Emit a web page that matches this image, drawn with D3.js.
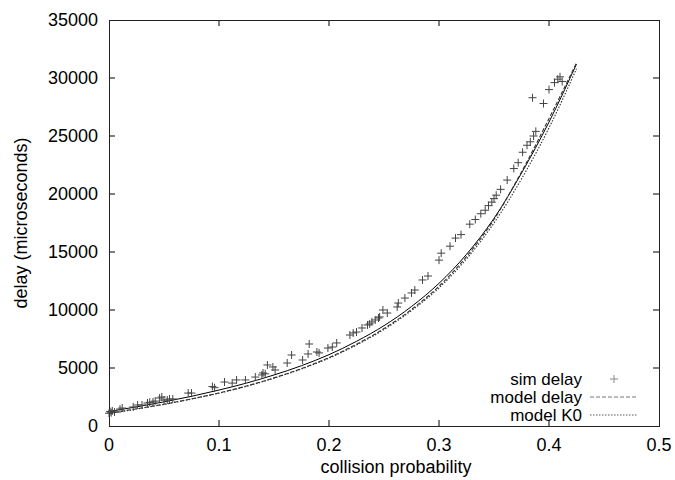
<!DOCTYPE html>
<html><head><meta charset="utf-8">
<script src="https://cdn.jsdelivr.net/npm/d3@7"></script>
<style>body{margin:0;background:#fff}svg{display:block}text{font-family:"Liberation Sans",Arial,sans-serif;fill:#000}</style>
</head><body>
<svg id="c" width="675" height="480"></svg>
<script>
const xTicks = [0, 0.1, 0.2, 0.3, 0.4, 0.5];
const yTicks = [0, 5000, 10000, 15000, 20000, 25000, 30000, 35000];
const legendLabels = ["sim delay", "model delay", "model K0"];
const simP = [0.000,0.001,0.002,0.003,0.005,0.010,0.012,0.022,0.026,0.030,0.035,0.037,0.040,0.042,0.046,0.048,0.050,0.053,0.055,0.058,0.072,0.075,0.094,0.096,0.105,0.112,0.116,0.124,0.133,0.139,0.140,0.142,0.144,0.149,0.151,0.162,0.166,0.176,0.181,0.182,0.189,0.191,0.199,0.203,0.207,0.219,0.222,0.225,0.230,0.235,0.237,0.239,0.242,0.245,0.246,0.249,0.253,0.262,0.263,0.269,0.275,0.278,0.285,0.290,0.300,0.302,0.310,0.315,0.320,0.328,0.333,0.338,0.342,0.345,0.348,0.350,0.352,0.356,0.362,0.368,0.372,0.376,0.380,0.383,0.386,0.388,0.385,0.395,0.400,0.405,0.408,0.410,0.412];
const simDelay = [1100,1250,1150,1300,1200,1460,1550,1640,1810,1810,1980,2050,2070,2150,2410,2500,2240,2240,2330,2330,2840,2840,3400,3300,3790,3700,3970,3970,4220,4400,4570,4500,5260,5090,4830,5430,6120,5690,6210,7070,6380,6300,6720,6810,7160,7840,8020,8100,8450,8710,8800,8970,9140,9310,9400,10000,9740,10260,10600,11030,11470,11720,12590,12930,14300,14900,15500,16200,16500,17400,17800,18300,18600,19000,19300,19600,19900,20400,21200,22200,22700,23600,24200,24500,25000,25400,28300,27800,29000,29600,29900,30100,29700];
const modelP = [0,0.025,0.05,0.075,0.1,0.125,0.15,0.175,0.2,0.225,0.25,0.275,0.3,0.325,0.35,0.375,0.4,0.425];
const solidDelay = [1250,1650,2080,2560,3100,3700,4400,5200,6150,7300,8650,10300,12300,14800,17900,21800,26200,31200];
const modelDelay = [1100,1480,1880,2340,2850,3450,4150,4950,5900,7050,8400,10050,12050,14600,17800,21900,26500,31300];
const modelK0 = [1080,1460,1860,2320,2830,3420,4120,4920,5850,6980,8320,9950,11900,14400,17500,21300,25700,30800];

const svg = d3.select("#c");
const L = 109, R = 659, T = 20, B = 426;
const x = d3.scaleLinear().domain([0, 0.5]).range([L, R]);
const y = d3.scaleLinear().domain([0, 35000]).range([B, T]);
const fs = 18, tl = 6;
const g = svg.append("g");

// ticks (inward, mirrored)
xTicks.forEach(t => {
  if (t > 0 && t < 0.5) {
    g.append("line").attr("x1", x(t)).attr("x2", x(t)).attr("y1", B).attr("y2", B - tl).attr("stroke", "#000");
    g.append("line").attr("x1", x(t)).attr("x2", x(t)).attr("y1", T).attr("y2", T + tl).attr("stroke", "#000");
  }
  g.append("text").attr("x", x(t)).attr("y", B + 25).attr("text-anchor", "middle").attr("font-size", fs).text(t === 0 ? "0" : d3.format(".1f")(t));
});
yTicks.forEach(t => {
  if (t > 0 && t < 35000) {
    g.append("line").attr("x1", L).attr("x2", L + tl).attr("y1", y(t)).attr("y2", y(t)).attr("stroke", "#000");
    g.append("line").attr("x1", R).attr("x2", R - tl).attr("y1", y(t)).attr("y2", y(t)).attr("stroke", "#000");
  }
  g.append("text").attr("x", L - 11).attr("y", y(t) + 6).attr("text-anchor", "end").attr("font-size", fs).text(String(t));
});
g.append("rect").attr("x", L + 0.5).attr("y", T + 0.5).attr("width", R - L).attr("height", B - T).attr("fill", "none").attr("stroke", "#222");

g.append("text").attr("x", 396).attr("y", 473).attr("text-anchor", "middle").attr("font-size", fs).text("collision probability");
g.append("text").attr("transform", "translate(27," + (T + B) / 2 + ") rotate(-90)").attr("text-anchor", "middle").attr("font-size", fs).text("delay (microseconds)");

// model lines
const line = d3.line().x(d => x(d[0])).y(d => y(d[1])).curve(d3.curveMonotoneX);
const mk = arr => modelP.map((p, i) => [p, arr[i]]);
g.append("path").attr("d", line(mk(solidDelay))).attr("fill", "none").attr("stroke", "#000").attr("stroke-width", 1);
g.append("path").attr("d", line(mk(modelDelay))).attr("fill", "none").attr("stroke", "#333").attr("stroke-width", 1.1).attr("stroke-dasharray", "4,2");
g.append("path").attr("d", line(mk(modelK0))).attr("fill", "none").attr("stroke", "#333").attr("stroke-width", 1.1).attr("stroke-dasharray", "1.5,1.5");

// sim points
const s = 4;
const plus = (px, py) => "M" + (px - s) + "," + py + "H" + (px + s) + "M" + px + "," + (py - s) + "V" + (py + s);
g.append("path").attr("d", simP.map((p, i) => plus(x(p), y(simDelay[i]))).join("")).attr("fill", "none").attr("stroke", "#444").attr("stroke-width", 1);

// legend
const ly = [379, 397, 415];
legendLabels.forEach((lab, i) => {
  g.append("text").attr("x", 582).attr("y", ly[i] + 6).attr("text-anchor", "end").attr("font-size", 17).text(lab);
});
g.append("path").attr("d", plus(614, ly[0])).attr("stroke", "#888").attr("stroke-width", 1);
g.append("line").attr("x1", 590).attr("x2", 638).attr("y1", ly[1]).attr("y2", ly[1]).attr("stroke", "#777").attr("stroke-dasharray", "4,2");
g.append("line").attr("x1", 590).attr("x2", 638).attr("y1", ly[2]).attr("y2", ly[2]).attr("stroke", "#555").attr("stroke-dasharray", "1.5,1.5");
</script>
</body></html>
